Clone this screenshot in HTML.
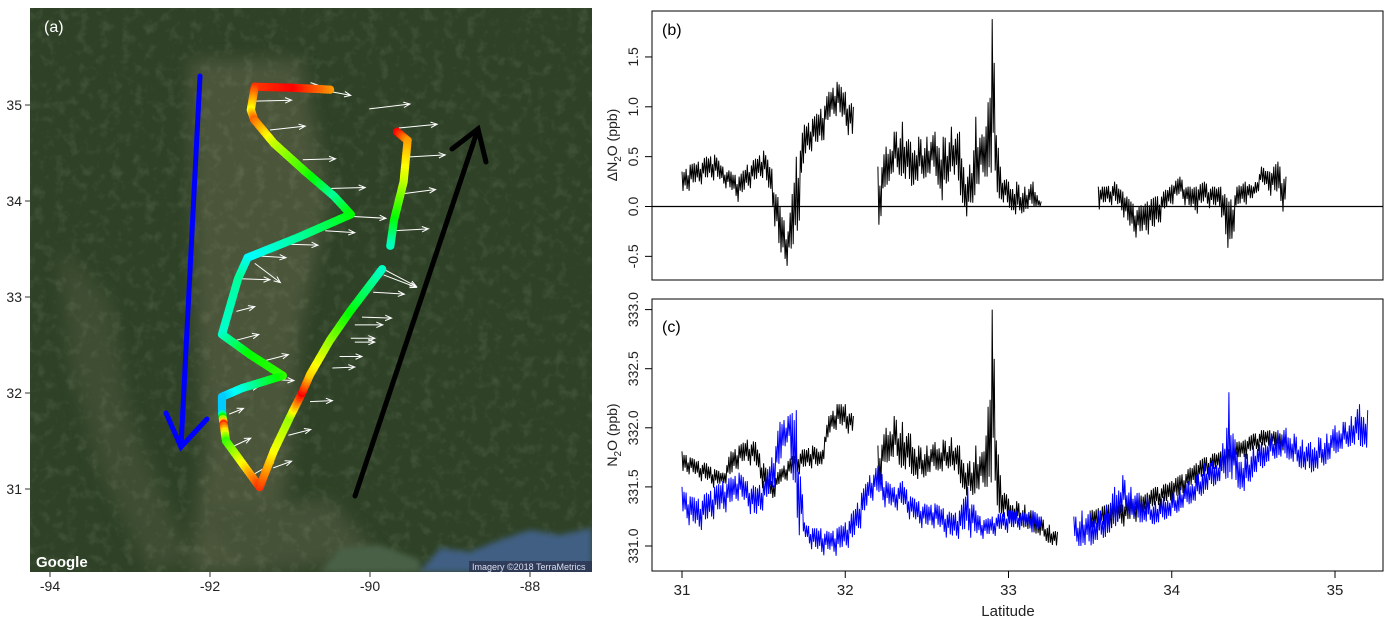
<!DOCTYPE html>
<html><head><meta charset="utf-8">
<style>
html,body{margin:0;padding:0;background:#fff;}
svg{display:block;font-family:"Liberation Sans",sans-serif;}
</style></head>
<body>
<svg id="fig" width="1394" height="631" viewBox="0 0 1394 631" xmlns="http://www.w3.org/2000/svg">
<defs>
<filter id="blur8" x="-20%" y="-20%" width="140%" height="140%"><feGaussianBlur stdDeviation="8"/></filter>
<filter id="blur3"><feGaussianBlur stdDeviation="3"/></filter>
<filter id="tex" x="0" y="0" width="100%" height="100%">
<feTurbulence type="fractalNoise" baseFrequency="0.09" numOctaves="3" seed="4"/>
<feColorMatrix values="0 0 0 0 0.7  0 0 0 0 0.75  0 0 0 0 0.55  0 0 0 1.4 -0.7"/>
</filter>
<clipPath id="mapclip"><rect x="30" y="8" width="562" height="564"/></clipPath>
</defs>
<g id="panel-a">
<g clip-path="url(#mapclip)">
<rect x="30" y="8" width="562" height="564" fill="#2f4227"/>
<g filter="url(#blur8)" opacity="0.5">
<path d="M190,60 L300,60 L330,200 L300,330 L290,460 L270,572 L190,572 L205,450 L195,300 Z" fill="#66694d"/>
<path d="M60,250 L110,300 L130,420 L190,560 L150,572 L100,470 L70,360 Z" fill="#4f5a3f"/>
<path d="M200,510 L330,500 L380,560 L250,572 Z" fill="#5b6249"/>
</g>
<rect x="30" y="8" width="562" height="564" filter="url(#tex)" opacity="0.2"/>
<g filter="url(#blur3)">
<path d="M420,572 L440,548 L470,552 L500,540 L530,530 L560,535 L592,528 L592,572 Z" fill="#3f5f83"/>
<path d="M320,572 L340,548 L380,545 L420,560 L420,572 Z" fill="#4a6147"/>
</g>
</g>
<text x="44" y="32" font-size="16" fill="#fff">(a)</text>
<text x="36" y="567" font-size="15" font-weight="bold" fill="#fff">Google</text>
<rect x="469" y="561" width="123" height="11" fill="#2a3350" opacity="0.8"/>
<text x="472" y="570" font-size="9" fill="#dde">Imagery ©2018 TerraMetrics</text>
<g id="map-axes"></g>
<g id="arrows"></g>
<g id="track"></g>
<g stroke="#0000ff" stroke-width="5" stroke-linecap="round" fill="none">
<path d="M200,76 L181,447"/><path d="M166,413 L181,447 L207,419"/>
</g>
<g stroke="#000" stroke-width="5" stroke-linecap="round" fill="none">
<path d="M355,496 L478,129"/><path d="M452,149 L478,129 L486,162"/>
</g>
</g>
<g id="panel-b">
<rect x="652" y="11" width="731" height="269" fill="none" stroke="#000" stroke-width="1"/>
<text x="662" y="35" font-size="16">(b)</text>
<text transform="translate(617,145) rotate(-90)" text-anchor="middle" font-size="14" fill="#222">ΔN<tspan font-size="10" dy="4">2</tspan><tspan dy="-4">O (ppb)</tspan></text>
</g>
<g id="panel-c">
<rect x="652" y="299" width="731" height="272" fill="none" stroke="#000" stroke-width="1"/>
<text x="662" y="332" font-size="16">(c)</text>
<text transform="translate(617,435) rotate(-90)" text-anchor="middle" font-size="14" fill="#222">N<tspan font-size="10" dy="4">2</tspan><tspan dy="-4">O (ppb)</tspan></text>
<text x="1008" y="616" text-anchor="middle" font-size="15" fill="#222">Latitude</text>
</g>
</svg>
<script>
// ---------- Map data ----------
var mapLonTicks = [-94, -92, -90, -88];
var mapLatTicks = [31, 32, 33, 34, 35];
var trackALon = [-90.5,-91.0,-91.44,-91.49,-91.45,-91.2,-90.8,-90.45,-90.24,-90.9,-91.53,-91.65,-91.85,-91.5,-91.09,-91.6,-91.85,-91.85,-91.83,-91.8,-91.38,-91.2,-91.0,-90.85,-90.75,-90.5,-90.25,-89.83];
var trackALat = [35.16,35.18,35.19,34.95,34.85,34.6,34.3,34.05,33.86,33.62,33.41,33.19,32.61,32.4,32.18,32.05,31.96,31.8,31.68,31.5,31.02,31.4,31.75,32.0,32.19,32.55,32.85,33.31];
var trackAVal = [0.85,1.0,0.95,0.75,0.9,0.7,0.55,0.35,0.5,0.35,0.25,0.35,0.3,0.5,0.55,0.3,0.2,0.2,0.95,0.55,0.95,0.75,0.65,1.0,0.8,0.65,0.5,0.3];
var trackBLon = [-89.66,-89.53,-89.58,-89.7,-89.75];
var trackBLat = [34.72,34.63,34.2,33.8,33.51];
var trackBVal = [1.0,0.85,0.7,0.5,0.3];
var windLon = [-91.12,-90.56,-91.44,-90.01,-91.25,-89.64,-89.5,-90.84,-90.52,-89.64,-90.24,-89.71,-90.56,-91.02,-91.44,-91.44,-89.83,-89.83,-91.62,-89.96,-91.67,-90.1,-90.19,-90.24,-90.19,-91.67,-91.3,-90.38,-90.47,-91.25,-90.75,-91.67,-91.76,-91.02,-91.72,-91.44,-91.21];
var windLat = [35.18,35.15,35.04,34.96,34.74,34.76,34.46,34.43,34.13,34.07,33.84,33.69,33.69,33.55,33.43,33.35,33.29,33.23,33.19,33.05,32.85,32.79,32.71,32.57,32.53,32.55,32.34,32.38,32.26,32.14,31.91,32.02,31.78,31.56,31.44,31.16,31.22];
var windU = [0.46,0.32,0.46,0.51,0.44,0.48,0.44,0.41,0.46,0.46,0.44,0.44,0.37,0.37,0.39,0.32,0.41,0.41,0.37,0.39,0.23,0.37,0.35,0.3,0.25,0.28,0.28,0.28,0.28,0.3,0.28,0.28,0.18,0.28,0.23,0.23,0.23];
var windV = [0.03,-0.05,0.01,0.05,0.04,0.04,0.02,0.01,0.01,0.05,-0.02,0.02,-0.02,-0.01,-0.02,-0.2,-0.18,-0.13,-0.01,-0.02,0.05,-0.01,0,0,0,0.06,0.06,0,0.01,-0.01,0.01,0.05,0.06,0.06,0.09,0.11,0.07];

// ---------- Time-series data (latitude grid 31.00..35.20 step 0.05) ----------
var latStart = 31.0, latStep = 0.05;
var xTicks = [31, 32, 33, 34, 35];
var bTicks = [-0.5, 0.0, 0.5, 1.0, 1.5];
var cTicks = [331.0, 331.5, 332.0, 332.5, 333.0];
var N = null;
var deltaLo = [0.08,0.15,0.2,0.22,0.25,0.2,0.12,0.02,0.15,0.2,
 0.28,0.0,-0.6,-0.62,-0.55,0.42,0.55,0.55,0.8,0.9,
 0.75,0.6,N,N,-0.3,0.2,0.35,0.3,0.2,0.25,
 0.3,0.35,0.0,0.4,0.15,-0.15,0.15,0.3,0.3,0.05,
 0.0,-0.1,-0.05,0.0,0.0,N,N,N,N,N,
 N,-0.05,0.0,0.0,-0.1,-0.3,-0.35,-0.3,-0.3,-0.1,
 0.0,0.08,-0.05,-0.1,0.0,-0.05,-0.05,-0.65,-0.05,0.0,
 0.05,0.2,0.1,0.05,-0.15,N,N,N,N,N,
 N,N,N,N,N];
var deltaHi = [0.35,0.42,0.45,0.5,0.52,0.4,0.35,0.3,0.42,0.48,
 0.56,0.38,0.0,-0.25,0.5,0.82,0.88,0.98,1.15,1.25,
 1.15,1.0,N,N,0.4,0.6,0.75,0.85,0.65,0.7,
 0.7,0.75,0.7,0.8,0.75,0.3,0.9,0.7,1.88,0.4,
 0.25,0.25,0.2,0.25,0.05,N,N,N,N,N,
 N,0.2,0.2,0.25,0.15,0.05,0.0,0.05,0.1,0.15,
 0.22,0.3,0.2,0.2,0.25,0.2,0.2,0.05,0.2,0.25,
 0.2,0.4,0.35,0.45,0.3,N,N,N,N,N,
 N,N,N,N,N];
var blueLo = [331.24,331.15,331.1,331.15,331.22,331.25,331.3,331.38,331.3,331.18,
 331.3,331.4,331.6,331.9,331.05,331.05,330.95,330.9,330.92,330.9,
 330.95,331.0,331.15,331.35,331.4,331.3,331.28,331.3,331.2,331.15,
 331.12,331.14,331.08,331.02,331.05,331.05,331.05,331.05,331.06,331.1,
 331.1,331.12,331.14,331.1,331.1,N,N,N,331.0,331.0,
 331.0,331.05,331.08,331.15,331.3,331.25,331.2,331.2,331.18,331.22,
 331.25,331.3,331.35,331.38,331.45,331.5,331.55,331.58,331.5,331.45,
 331.6,331.65,331.72,331.75,331.75,331.7,331.65,331.62,331.65,331.7,
 331.78,331.82,331.85,331.85,331.82];
var blueHi = [331.5,331.42,331.4,331.45,331.5,331.55,331.58,331.62,331.55,331.5,
 331.55,331.75,332.05,332.1,332.15,331.2,331.15,331.15,331.12,331.15,
 331.2,331.3,331.45,331.6,331.68,331.55,331.5,331.55,331.42,331.38,
 331.35,331.36,331.32,331.28,331.3,331.5,331.3,331.22,331.25,331.28,
 331.3,331.3,331.28,331.3,331.25,N,N,N,331.25,331.3,
 331.28,331.3,331.35,331.5,331.6,331.5,331.45,331.42,331.38,331.42,
 331.45,331.5,331.55,331.6,331.7,331.72,331.75,332.3,331.8,331.78,
 331.85,331.88,331.95,331.98,332.0,331.95,331.9,331.88,331.92,331.95,
 332.02,332.05,332.1,332.2,332.15];
var blackLo = [331.58,331.6,331.55,331.52,331.48,331.5,331.55,331.65,331.68,331.65,
 331.45,331.35,331.5,331.55,331.58,331.62,331.65,331.62,331.9,331.98,
 331.95,331.92,N,N,331.45,331.7,331.75,331.65,331.62,331.55,
 331.6,331.65,331.62,331.68,331.55,331.4,331.45,331.5,331.5,331.25,
 331.22,331.2,331.15,331.12,331.08,331.02,330.98,N,N,N,
 331.1,331.12,331.12,331.15,331.15,331.18,331.2,331.25,331.3,331.32,
 331.35,331.38,331.45,331.5,331.55,331.6,331.62,331.65,331.7,331.72,
 331.78,331.8,331.82,331.8,331.8,N,N,N,N,N,
 N,N,N,N,N];
var blackHi = [331.8,331.75,331.72,331.7,331.65,331.62,331.8,331.85,331.9,331.88,
 331.7,331.55,331.65,331.72,331.8,331.82,331.85,331.8,332.1,332.2,
 332.2,332.1,N,N,331.85,332.0,332.1,332.05,331.95,331.85,
 331.85,331.88,331.9,331.92,331.85,331.7,331.85,331.8,333.0,331.6,
 331.4,331.38,331.35,331.3,331.25,331.18,331.12,N,N,N,
 331.3,331.32,331.35,331.38,331.35,331.4,331.42,331.45,331.5,331.52,
 331.55,331.6,331.65,331.7,331.75,331.78,331.8,331.82,331.88,331.9,
 331.95,331.98,331.98,331.96,331.95,N,N,N,N,N,
 N,N,N,N,N];

var NS = "http://www.w3.org/2000/svg";
function mk(tag, attrs, parent) {
  var e = document.createElementNS(NS, tag);
  for (var k in attrs) e.setAttribute(k, attrs[k]);
  parent.appendChild(e);
  return e;
}
function mx(lon) { return 50 + (lon + 94) * 80; }
function my(lat) { return 105 + (35 - lat) * 96; }
function sx(lat) { return 682 + (lat - 31) * 163.25; }
function byy(v) { return 206.5 - v * 99.7; }
function cyy(v) { return 546 - (v - 331) * 118.2; }
function rainbow(v) { return "hsl(" + (240 * (1 - v)).toFixed(0) + ",100%,50%)"; }

var mapAxes = document.getElementById("map-axes");
mapLonTicks.forEach(function (t) {
  var l = mk("line", {x1: mx(t), x2: mx(t), y1: 572, y2: 577, stroke: "#333"}, mapAxes);
  
  
  var tx = mk("text", {x: mx(t), y: 591, "font-size": 14, "text-anchor": "middle", fill: "#222"}, mapAxes);
  tx.textContent = t;
  
  
});
mapLatTicks.forEach(function (t) {
  var l = mk("line", {x1: 25, x2: 30, y1: my(t), y2: my(t), stroke: "#333"}, mapAxes);
  
  
  var tx = mk("text", {x: 22, y: my(t) + 5, "font-size": 14, "text-anchor": "end", fill: "#222"}, mapAxes);
  tx.textContent = t;
  
  
});

var arrowsG = document.getElementById("arrows");
for (var i = 0; i < windLon.length; i++) {
  var x1 = mx(windLon[i]), y1 = my(windLat[i]);
  var x2 = mx(windLon[i] + windU[i]), y2 = my(windLat[i] + windV[i]);
  var a = Math.atan2(y2 - y1, x2 - x1), hl = 7;
  var d = "M" + x1 + "," + y1 + "L" + x2 + "," + y2 +
    "M" + (x2 - hl * Math.cos(a - 0.4)) + "," + (y2 - hl * Math.sin(a - 0.4)) + "L" + x2 + "," + y2 +
    "L" + (x2 - hl * Math.cos(a + 0.4)) + "," + (y2 - hl * Math.sin(a + 0.4));
  var p = mk("path", {d: d, stroke: "#fff", "stroke-width": 1, fill: "none"}, arrowsG);
  
  
}

var trackG = document.getElementById("track");
function drawTrack(lons, lats, vals) {
  for (var i = 0; i < lons.length - 1; i++) {
    var x1 = mx(lons[i]), y1 = my(lats[i]), x2 = mx(lons[i + 1]), y2 = my(lats[i + 1]);
    var len = Math.hypot(x2 - x1, y2 - y1), n = Math.max(2, Math.ceil(len / 2.5));
    for (var k = 0; k < n; k++) {
      var t = k / n;
      var c = mk("circle", {cx: x1 + (x2 - x1) * t, cy: y1 + (y2 - y1) * t, r: 4.2,
        fill: rainbow(vals[i] + (vals[i + 1] - vals[i]) * t)}, trackG);
      
      
    }
  }
}
drawTrack(trackALon, trackALat, trackAVal);
drawTrack(trackBLon, trackBLat, trackBVal);

var pb = document.getElementById("panel-b"), pc = document.getElementById("panel-c");
bTicks.forEach(function (t) {
  var l = mk("line", {x1: 645, x2: 652, y1: byy(t), y2: byy(t), stroke: "#000"}, pb);
  
  
  var tx = mk("text", {transform: "translate(638," + byy(t) + ") rotate(-90)", "font-size": 14, "text-anchor": "middle", fill: "#222"}, pb);
  tx.textContent = t.toFixed(1);
  
  
});
cTicks.forEach(function (t) {
  var l = mk("line", {x1: 645, x2: 652, y1: cyy(t), y2: cyy(t), stroke: "#000"}, pc);
  
  
  var tx = mk("text", {transform: "translate(638," + cyy(t) + ") rotate(-90)", "font-size": 14, "text-anchor": "middle", fill: "#222"}, pc);
  tx.textContent = t.toFixed(1);
  
  
});
xTicks.forEach(function (t) {
  var l = mk("line", {x1: sx(t), x2: sx(t), y1: 571, y2: 578, stroke: "#000"}, pc);
  
  
  var tx = mk("text", {x: sx(t), y: 595, "font-size": 15, "text-anchor": "middle", fill: "#222"}, pc);
  tx.textContent = t;
  
  
});
var zl = mk("line", {x1: 652, x2: 1383, y1: byy(0), y2: byy(0), stroke: "#000", "stroke-width": 1.2}, pb);



// noisy band trace: dense strokes spanning the lo..hi band
var jitter = [1.0, 0.55, 0.85, 0.3, 0.95, 0.65, 0.4, 0.9, 0.75, 0.2, 1.0, 0.5];
function trace(lo, hi, yf, color, parent, name) {
  var d = "", pen = false, j = 0, sub = 8;
  for (var i = 0; i < lo.length; i++) {
    if (lo[i] === null) { pen = false; continue; }
    var hasNext = i + 1 < lo.length && lo[i + 1] !== null;
    var steps = hasNext ? sub : 1;
    for (var k = 0; k < steps; k++) {
      var t = k / sub;
      var l = hasNext ? lo[i] + (lo[i + 1] - lo[i]) * t : lo[i];
      var h = hasNext ? hi[i] + (hi[i + 1] - hi[i]) * t : hi[i];
      if (k === 0) { l = lo[i]; h = hi[i]; }
      var x = sx(latStart + latStep * (i + t));
      var f = (k === 0) ? 1 : jitter[j % jitter.length]; j++;
      var v = (k % 2 === 0) ? l + (h - l) * (0.45 + 0.55 * f) : h - (h - l) * (0.45 + 0.55 * f);
      d += (pen ? "L" : "M") + x.toFixed(1) + "," + yf(v).toFixed(1);
      pen = true;
    }
  }
  var p = mk("path", {d: d, stroke: color, "stroke-width": 1, fill: "none", "stroke-linejoin": "bevel"}, parent);
  
  
}
trace(deltaLo, deltaHi, byy, "#000", pb, "delta-n2o-line");
trace(blackLo, blackHi, cyy, "#000", pc, "n2o-northbound-line");
trace(blueLo, blueHi, cyy, "#0000ff", pc, "n2o-southbound-line");
</script>
</body></html>
